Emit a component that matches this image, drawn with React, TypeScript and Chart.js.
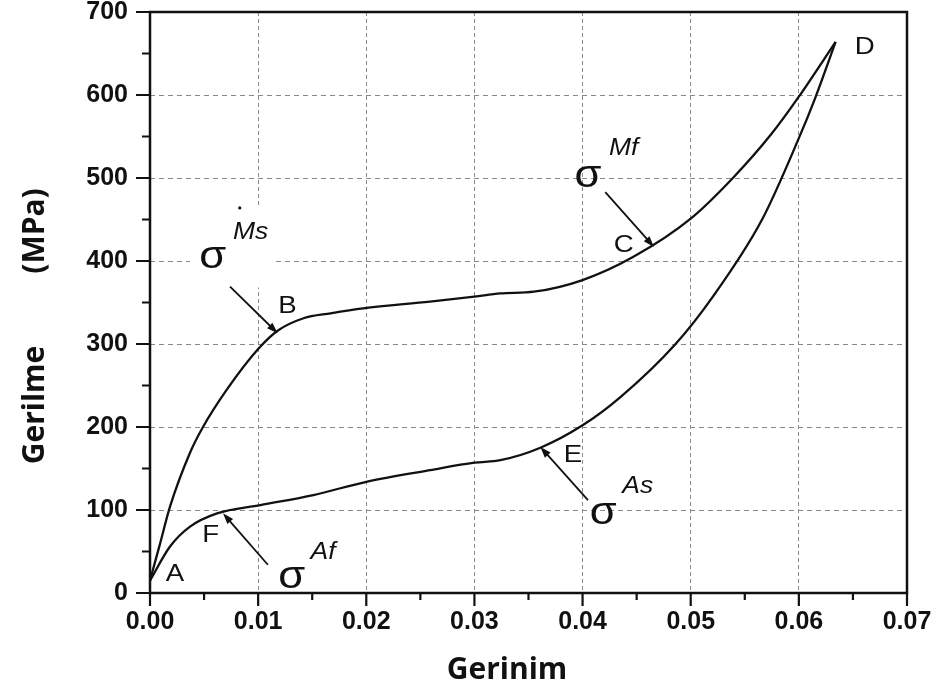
import React, { useEffect, useRef } from 'react';
import { Chart, registerables } from 'chart.js';

Chart.register(...registerables);

// Loading branch A → B → C → D
const loadingStrain = [0, 0.0009, 0.00185, 0.0037, 0.0049, 0.0071, 0.010, 0.0118, 0.0142, 0.0167, 0.0197, 0.0259, 0.030, 0.0324, 0.0355, 0.040, 0.0447, 0.050, 0.0539, 0.0574, 0.060, 0.0634];
const loadingStress = [15, 58, 104, 169, 200, 245, 294, 316, 331, 337, 343, 351, 357, 361, 363, 377, 405, 451, 500, 552, 598, 664];

// Unloading branch D → E → F → A (stored in increasing strain)
const unloadingStrain = [0, 0.00185, 0.0037, 0.0062, 0.0102, 0.0151, 0.020, 0.0259, 0.030, 0.0324, 0.0361, 0.040, 0.0435, 0.0486, 0.0521, 0.0566, 0.060, 0.0615, 0.0634];
const unloadingStress = [15, 56, 80, 96, 106, 118, 134, 148, 157, 160, 175, 202, 236, 300, 358, 450, 548, 596, 664];

const xMin = 0, xMax = 0.07, xStep = 0.005;
const yMin = 0, yMax = 700, yStep = 50;

const pointLetters = ['A', 'B', 'C', 'D', 'E', 'F'];
const letterX = [0.0023, 0.0127, 0.0438, 0.0661, 0.0391, 0.0056];
const letterY = [22, 345, 419, 657, 166, 70];

const sigmaSup = ['Af', 'Ms', 'Mf', 'As'];
const sigmaX = [0.0131, 0.0058, 0.0405, 0.0419];
const sigmaY = [19, 404, 502, 96];
const supX = [0.0160, 0.0093, 0.0438, 0.0451];
const supY = [49, 434, 536, 128];
const arrowFromX = [0.0109, 0.0074, 0.0421, 0.0405];
const arrowFromY = [34, 369, 483, 112];
const arrowToX = [0.00675, 0.0118, 0.0466, 0.0361];
const arrowToY = [96, 313, 417, 176];

const xTitle = 'Gerinim';
const yTitleMain = 'Gerilme';
const yTitleUnit = '(MPa)';

const annotationPlugin = {
  id: 'annotations',
  afterDraw(chart: any) {
    const { ctx, chartArea, scales } = chart;
    const xs = scales.x, ys = scales.y;
    const px = (v: number) => xs.getPixelForValue(v);
    const py = (v: number) => ys.getPixelForValue(v);
    ctx.save();

    // white patch behind sigma Ms (hides grid there as in the original)
    ctx.fillStyle = '#ffffff';
    const bx0 = px(0.0037), bx1 = px(0.0116), by0 = py(464), by1 = py(368);
    ctx.fillRect(bx0, by0, bx1 - bx0, by1 - by0);

    // frame
    ctx.strokeStyle = '#111';
    ctx.lineWidth = 2.5;
    ctx.strokeRect(chartArea.left, chartArea.top, chartArea.right - chartArea.left, chartArea.bottom - chartArea.top);

    // ticks
    ctx.lineWidth = 2.2;
    ctx.beginPath();
    xs.ticks.forEach((t: any) => {
      const major = Math.round(t.value * 1000) % 10 === 0;
      const x = px(t.value);
      ctx.moveTo(x, chartArea.bottom);
      ctx.lineTo(x, chartArea.bottom + (major ? 13 : 7));
    });
    ys.ticks.forEach((t: any) => {
      const major = Math.round(t.value) % 100 === 0;
      const y = py(t.value);
      ctx.moveTo(chartArea.left, y);
      ctx.lineTo(chartArea.left - (major ? 14 : 8), y);
    });
    ctx.stroke();

    const drawText = (text: string, x: number, y: number, font: string, sx = 1.15) => {
      ctx.save();
      ctx.translate(x, y);
      ctx.scale(sx, 1);
      ctx.font = font;
      ctx.fillStyle = '#111';
      ctx.textAlign = 'center';
      ctx.textBaseline = 'middle';
      ctx.fillText(text, 0, 0);
      ctx.restore();
    };

    pointLetters.forEach((l, i) => {
      drawText(l, px(letterX[i]), py(letterY[i]), "24px 'Liberation Sans', Arial, sans-serif");
    });

    sigmaSup.forEach((s, i) => {
      drawText('σ', px(sigmaX[i]), py(sigmaY[i]), "38px 'Liberation Sans', Arial, sans-serif");
      drawText(s, px(supX[i]), py(supY[i]), "italic 23px 'Liberation Sans', Arial, sans-serif");
      const x0 = px(arrowFromX[i]), y0 = py(arrowFromY[i]);
      const x1 = px(arrowToX[i]), y1 = py(arrowToY[i]);
      const ang = Math.atan2(y1 - y0, x1 - x0);
      ctx.strokeStyle = '#111';
      ctx.fillStyle = '#111';
      ctx.lineWidth = 1.8;
      ctx.beginPath();
      ctx.moveTo(x0, y0);
      ctx.lineTo(x1 - 6 * Math.cos(ang), y1 - 6 * Math.sin(ang));
      ctx.stroke();
      const L = 11, W = 3.8;
      ctx.beginPath();
      ctx.moveTo(x1, y1);
      ctx.lineTo(x1 - L * Math.cos(ang) + W * Math.sin(ang), y1 - L * Math.sin(ang) - W * Math.cos(ang));
      ctx.lineTo(x1 - L * Math.cos(ang) - W * Math.sin(ang), y1 - L * Math.sin(ang) + W * Math.cos(ang));
      ctx.closePath();
      ctx.fill();
    });

    // small dot above Ms
    ctx.beginPath();
    ctx.arc(px(0.0083), py(464), 1.6, 0, Math.PI * 2);
    ctx.fill();

    // axis titles
    ctx.fillStyle = '#111';
    ctx.font = "bold 30px 'Open Sans', 'Liberation Sans', sans-serif";
    ctx.textAlign = 'center';
    ctx.textBaseline = 'middle';
    ctx.fillText(xTitle, 507, 670);
    ctx.save();
    ctx.translate(35, 405);
    ctx.rotate(-Math.PI / 2);
    ctx.fillText(yTitleMain, 0, 0);
    ctx.restore();
    ctx.save();
    ctx.translate(35, 231);
    ctx.rotate(-Math.PI / 2);
    ctx.fillText(yTitleUnit, 0, 0);
    ctx.restore();

    ctx.restore();
  },
};

export default function App() {
  const ref = useRef<HTMLCanvasElement | null>(null);
  useEffect(() => {
    if (!ref.current) return;
    const loading = loadingStrain.map((x, i) => ({ x, y: loadingStress[i] }));
    const unloading = unloadingStrain.map((x, i) => ({ x, y: unloadingStress[i] }));
    const tickFont = { family: "'Liberation Sans', Arial, sans-serif", size: 25, weight: 'bold' as const };
    const chart = new Chart(ref.current, {
      type: 'line',
      data: {
        datasets: [
          { label: 'Yükleme', data: loading, borderColor: '#111', borderWidth: 2.3, pointRadius: 0, cubicInterpolationMode: 'monotone', fill: false },
          { label: 'Boşaltma', data: unloading, borderColor: '#111', borderWidth: 2.3, pointRadius: 0, cubicInterpolationMode: 'monotone', fill: false },
        ],
      },
      options: {
        responsive: false,
        animation: false,
        layout: { padding: { left: 0, top: 12, right: 31, bottom: 0 } },
        plugins: { legend: { display: false }, tooltip: { enabled: false } },
        scales: {
          x: {
            type: 'linear',
            min: xMin,
            max: xMax,
            afterFit: (s: any) => { s.height = 101; s.paddingLeft = 0; s.paddingRight = 0; },
            ticks: {
              stepSize: xStep,
              autoSkip: false,
              maxRotation: 0,
              padding: 14,
              color: '#111',
              font: tickFont,
              callback: (v: any) => (Math.round(Number(v) * 1000) % 10 === 0 ? Number(v).toFixed(2) : ''),
            },
            grid: {
              drawTicks: false,
              lineWidth: 1,
              color: (c: any) => {
                const v = c.tick ? c.tick.value : 0;
                const major = Math.round(v * 1000) % 10 === 0;
                if (!major || v <= xMin + 1e-9 || v >= xMax - 1e-9) return 'rgba(0,0,0,0)';
                return '#8a8a8a';
              },
            },
            border: { display: false, dash: [4, 3] },
          },
          y: {
            type: 'linear',
            min: yMin,
            max: yMax,
            afterFit: (s: any) => { s.width = 150; s.paddingTop = 0; s.paddingBottom = 0; },
            ticks: {
              stepSize: yStep,
              autoSkip: false,
              padding: 22,
              color: '#111',
              font: tickFont,
              callback: (v: any) => (Math.round(Number(v)) % 100 === 0 ? String(v) : ''),
            },
            grid: {
              drawTicks: false,
              lineWidth: 1,
              color: (c: any) => {
                const v = c.tick ? c.tick.value : 0;
                const major = Math.round(v) % 100 === 0;
                if (!major || v <= yMin || v >= yMax) return 'rgba(0,0,0,0)';
                return '#8a8a8a';
              },
            },
            border: { display: false, dash: [5, 4] },
          },
        },
      },
      plugins: [annotationPlugin],
    });
    return () => chart.destroy();
  }, []);
  return (
    <div style={{ position: 'fixed', left: 0, top: 0, width: 938, height: 694, background: '#fff' }}>
      <canvas ref={ref} width={938} height={694} style={{ display: 'block', width: 938, height: 694 }} />
    </div>
  );
}
